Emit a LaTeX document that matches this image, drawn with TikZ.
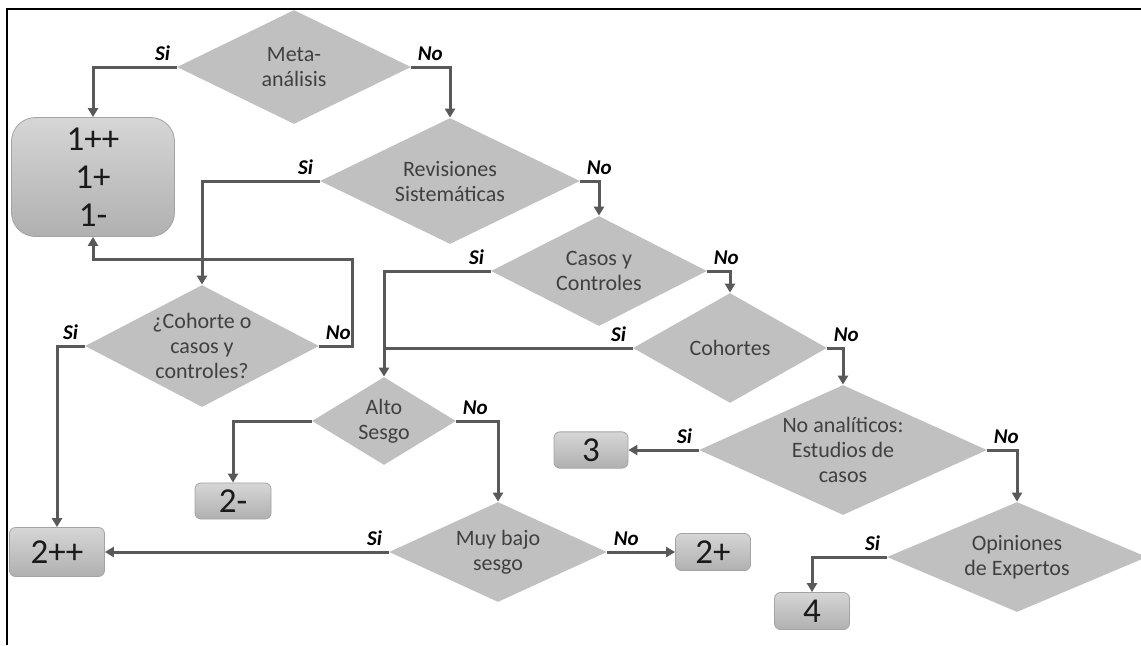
\documentclass[tikz,border=0pt]{standalone}
\usepackage{fontspec}
\setmainfont{Carlito}
\usepackage{xcolor}
\usepackage{tikz}
\usetikzlibrary{shapes.geometric, arrows.meta}
\definecolor{diamondgray}{HTML}{C0C0C0}
\definecolor{diamondtext}{HTML}{404040}
\definecolor{linegray}{HTML}{595959}
\definecolor{boxtop}{HTML}{D6D6D6}
\definecolor{boxbot}{HTML}{B0B0B0}
\definecolor{boxline}{HTML}{A3A3A3}
\definecolor{numtext}{HTML}{1A1A1A}

\begin{document}
\begin{tikzpicture}[x=0.5pt, y=-0.5pt,
  decision/.style={diamond, fill=diamondgray, inner sep=0pt, align=center,
    text=diamondtext, font=\fontsize{11}{12.5}\selectfont},
  result/.style={rectangle, rounded corners=3pt, top color=boxtop, bottom color=boxbot,
    draw=boxline, line width=0.4pt, align=center, text=numtext,
    font=\fontsize{17.5}{19}\selectfont},
  flow/.style={draw=linegray, line width=1.5pt, -{Triangle[length=4.5pt, width=5pt]}},
  lbl/.style={font=\fontsize{10.5}{12}\selectfont\bfseries\itshape, inner sep=2.5pt}]
  \useasboundingbox (0,0) rectangle (1141,645);

  % Frame
  \draw[line width=1pt] (7,645) -- (7,9) -- (1141,9);

  % Decisions
  \node[decision, minimum width=117pt, minimum height=57pt, shape aspect=2.05] (meta) at (294,67) {Meta-\\análisis};
  \node[decision, minimum width=130pt, minimum height=63pt, shape aspect=2.06] (revis) at (450,181) {Revisiones\\Sistemáticas};
  \node[decision, minimum width=108pt, minimum height=55pt, shape aspect=1.96] (casos) at (599,271) {Casos y\\Controles};
  \node[decision, minimum width=97pt, minimum height=55pt, shape aspect=1.76] (cohortes) at (730,348) {Cohortes};
  \node[decision, minimum width=144pt, minimum height=65pt, shape aspect=2.2] (noanal) at (843,450) {No analíticos:\\Estudios de\\casos};
  \node[decision, minimum width=130pt, minimum height=55pt, shape aspect=2.36] (opin) at (1017,557) {Opiniones\\de Expertos};
  \node[decision, minimum width=117pt, minimum height=61pt, shape aspect=1.92] (cohcas) at (202,346) {¿Cohorte o\\casos y\\controles?};
  \node[decision, minimum width=72pt, minimum height=44pt, shape aspect=1.64] (alto) at (384,421) {Alto\\Sesgo};
  \node[decision, minimum width=109pt, minimum height=50pt, shape aspect=2.18] (muybajo) at (498,552) {Muy bajo\\sesgo};

  % Levels
  \node[result, rounded corners=12pt, minimum width=81.5pt, minimum height=59.5pt] (uno) at (93,177) {1++\\1+\\1-};
  \node[result, minimum width=47.5pt, minimum height=24.5pt] (dosmm) at (57,552) {2++};
  \node[result, minimum width=38pt, minimum height=18pt] (dosmenos) at (233,501) {2-};
  \node[result, minimum width=37.5pt, minimum height=18.5pt] (dosmas) at (713,552) {2+};
  \node[result, minimum width=37pt, minimum height=18pt] (tres) at (591,450) {3};
  \node[result, minimum width=37.5pt, minimum height=18.5pt] (cuatro) at (812,611) {4};
  \coordinate (retorno) at (352,259);

  % Connectors
  \draw[flow] (meta.west) node[lbl, above left] {Si} -| (uno.north);
  \draw[flow] (meta.east) node[lbl, above right] {No} -| (revis.north);
  \draw[flow] (revis.west) node[lbl, above left] {Si} -| (cohcas.north);
  \draw[flow] (revis.east) node[lbl, above right] {No} -| (casos.north);
  \draw[flow] (casos.west) node[lbl, above left] {Si} -| (alto.north);
  \draw[flow] (casos.east) node[lbl, above right] {No} -| (cohortes.north);
  \draw[flow, -] (cohortes.west) node[lbl, above left] {Si} -- (cohortes.west -| alto.north);
  \draw[flow] (cohortes.east) node[lbl, above right] {No} -| (noanal.north);
  \draw[flow] (noanal.west) node[lbl, above left] {Si} -- (tres.east);
  \draw[flow] (noanal.east) node[lbl, above right] {No} -| (opin.north);
  \draw[flow] (opin.west) node[lbl, above left] {Si} -| (cuatro.north);
  \draw[flow] (cohcas.west) node[lbl, above left] {Si} -| (dosmm.north);
  \draw[flow] (cohcas.east) node[lbl, above right] {No} -| (retorno) -| (uno.south);
  \draw[flow] (alto.west) -| (dosmenos.north);
  \draw[flow] (alto.east) node[lbl, above right] {No} -| (muybajo.north);
  \draw[flow] (muybajo.west) node[lbl, above left] {Si} -- (dosmm.east);
  \draw[flow] (muybajo.east) node[lbl, above right] {No} -- (dosmas.west);
\end{tikzpicture}
\end{document}
